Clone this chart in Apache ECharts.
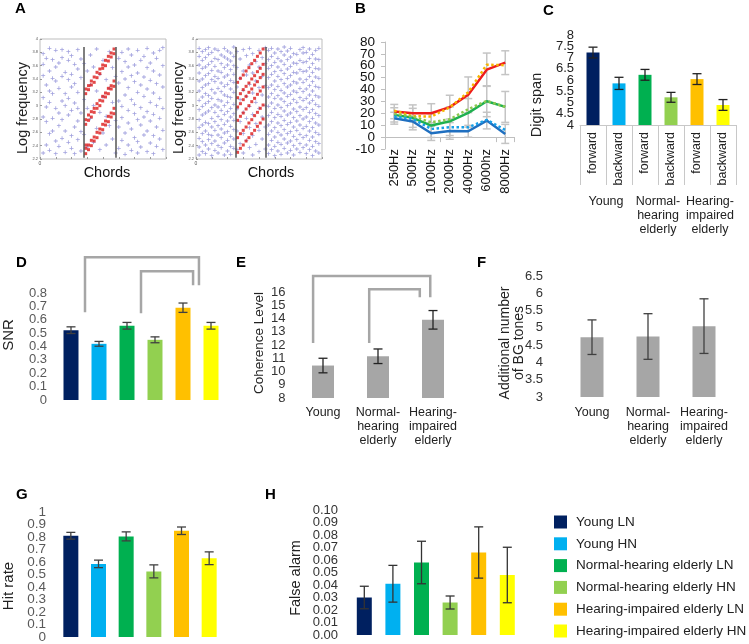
<!DOCTYPE html>
<html><head><meta charset="utf-8">
<script src="https://cdn.jsdelivr.net/npm/echarts@6/dist/echarts.min.js"></script>
<style>html,body{margin:0;padding:0;background:#fff}#c{width:749px;height:644px}</style>
</head><body><div id="c"></div>
<script>
const FF = '"Liberation Sans", Arial, sans-serif';

// ---------- Panel A (stimulus examples) ----------
const aLeftBg = [
"229 283 312 345 362 378","241 276 298 331 371","233 258 305 322 352 386","262 281 318 341 369",
"228 247 296 337 358 383","239 270 289 326 364","251 279 307 344 372 384","230 262 300 318 350",
"245 286 311 339 368 381","236 255 293 328 347 375","228 268 304 333 362","249 277 296 320 355 384",
"232 261 289 342 370","257 309 363","238 296 352","281 331 376","245 300 358","266 322 385",
"234 290 347","259 313 368","241 284 339","270 326 381","250 305 357","229 278 344",
"236 268 307 334 371","248 282 299 351 380","227 259 316 340 366","241 274 293 327 358 385",
"233 265 309 345 376","252 288 302 336 361","229 246 279 320 349 383","238 271 297 331 368",
"256 283 314 343 374","231 262 291 325 357 386","244 277 305 338 364","228 255 287 319 352 379",
"239 268 300 333 371","250 281 311 346 383","234 263 296 328 360 387"];
const aLeftRedX = [14.5,15.4,16.3,17.2,18.1,19.0,19.9,20.8,21.7,22.6,23.5];
const aLeftRed = [
"228 236 241 272 279 318 325","234 241 278 286 324 330","240 248 283 291 331 337",
"247 253 290 296 335 343","252 260 296 303 342 350","259 265 300 308 348 355",
"264 272 307 314 356 361","271 277 313 319 360 368","276 284 318 326 367 374",
"283 289 325 330 373 379","288 296 329 337 378 385"];
const aRightBg = [
"226 238 251 267 279 294 308 322 337 349 361 374 386","231 246 258 271 286 299 313 327 340 356 368 381",
"228 241 262 275 289 303 318 331 345 358 372 384","235 249 257 273 292 306 315 333 348 362 377 387",
"225 243 255 268 281 297 311 324 339 353 366 380","233 247 263 276 290 301 319 336 344 359 371 385",
"229 240 256 270 284 298 309 326 341 352 369 383","237 252 265 279 293 307 321 334 350 363 376",
"226 244 259 272 287 300 316 329 343 357 373 386","232 248 261 277 291 305 314 332 346 361 370 382",
"227 239 254 269 283 296 312 325 338 354 367 379","236 250 264 278 288 302 320 335 347 360 374 388",
"234 262 295 328 357 381","243 276 309 341 370","229 258 290 323 352 384","248 281 314 346 375",
"237 267 299 332 361 386","226 255 287 319 349 378","242 273 305 337 366","231 263 296 327 358 383",
"250 283 316 344 372","235 268 300 330 363 387",
"228 241 257 271 285 299 313 327 342 356 369 383","234 248 262 276 290 304 318 331 347 360 374 386",
"225 239 253 267 282 296 311 324 337 351 365 379","232 245 260 274 287 301 315 329 344 358 371 385",
"227 242 256 270 284 297 310 323 339 353 367 381","236 250 264 278 292 306 319 333 348 362 376 388",
"229 244 258 272 286 300 314 328 341 355 369 382","233 247 261 275 289 303 317 331 345 359 373 386",
"226 240 254 268 282 295 309 322 336 350 364 378","235 249 263 277 291 305 320 334 349 363 377",
"230 243 257 271 285 298 312 326 340 354 368 384","237 252 266 280 294 308 321 335 351 365 379 387",
"228 241 255 269 283 297 311 325 339 352 366 380","234 248 262 276 290 304 316 330 344 357 371 385",
"225 239 253 267 281 294 308 322 336 350 363 377","232 246 260 274 288 302 315 329 343 356 370 383",
"229 243 257 271 285 299 313 327 341 355 369 386"];
const aRightRedX = [13.2,14.1,15.0,15.9,16.8,17.7,18.6,19.5,20.4,21.3];
const aRightRed = [
"230 252 278 298 312 335","236 258 284 303 318 341","241 263 289 309 324 346",
"247 268 295 314 329 352","252 274 300 320 334 357","258 279 306 325 340 363",
"263 285 311 331 345 368","269 290 317 336 351 374","274 296 322 342 356 379",
"280 301 328 347 362 385"];
const aLeftLines = [14, 24];
const aRightLines = [12.7, 22.2];

// ---------- Panel B (audiogram) ----------
const freqCats = ['250Hz','500Hz','1000Hz','2000Hz','4000Hz','6000hz','8000Hz'];
const bTicks = ['-10','0','10','20','30','40','50','60','70','80'];
const bRed   = [21.5,20.1,20.1,25.2,35.6,56.7,62.6];
const bGreen = [18.7,16.2,9.7,13.3,20.4,30.2,25.4];
const bBlue  = [15.9,13.1,3.2,5.2,4.9,13.9,2.7];
const bOrangeDot = [22.3,17.6,17.3,25,37.8,60.9,60.5];
const bLGreenDot = [19.5,17.3,12.5,15,23.5,30.5,25.5];
const bLBlueDot  = [17.3,15.3,6.9,8.3,8.3,14.5,6.0];
const bRedSD   = [6,7,8,10,15,14,10];
const bGreenSD = [6,8,10,12,12,13,13];
const bBlueSD  = [5,7,6,7,5,7,8];

// ---------- Panel C (digit span) ----------
const cCats = ['forward','backward','forward','backward','forward','backward'];
const groupCats = ['Young','Normal-\nhearing\nelderly','Hearing-\nimpaired\nelderly'];
const cTicks = ['4','4.5','5','5.5','6','6.5','7','7.5','8'];
const cVals = [7.22,5.85,6.23,5.23,6.04,4.89];
const cSE   = [0.24,0.27,0.24,0.22,0.24,0.24];

// ---------- Panel D (SNR) ----------
const dTicks = ['0','0.1','0.2','0.3','0.4','0.5','0.6','0.7','0.8'];
const dVals = [0.522,0.42,0.555,0.45,0.69,0.555];
const dSE   = [0.025,0.018,0.025,0.022,0.035,0.025];
const dBrackets = [[0,0.5,0.657,1.067,4.57,0.858],[0,2.5,0.649,0.963,4.36,0.858]];

// ---------- Panel E (coherence level) ----------
const eVals = [10.45,11.15,13.9];
const eSE   = [0.55,0.55,0.7];
const eBrackets = [[0,-0.18,12.15,17.2,1.95,15.6],[0,0.84,12.15,16.2,1.76,15.6]];

// ---------- Panel F (BG tones) ----------
const fVals = [4.73,4.75,5.05];
const fSE   = [0.5,0.66,0.79];

// ---------- Panel G (hit rate) / H (false alarm) ----------
const condNames = ['Young LN','Young HN','Normal-hearing elderly LN','Normal-hearing elderly HN','Hearing-impaired elderly LN','Hearing-impaired elderly HN'];
const condColors = ['#002060','#00b0f0','#00b050','#92d050','#ffc000','#ffff00'];
const gTicks = ['0','0.1','0.2','0.3','0.4','0.5','0.6','0.7','0.8','0.9','1'];
const gVals = [0.81,0.585,0.805,0.525,0.85,0.63];
const gSE   = [0.027,0.03,0.036,0.052,0.03,0.051];
const hTicks = ['0.00','0.01','0.02','0.03','0.04','0.05','0.06','0.07','0.08','0.09','0.10'];
const hVals = [0.030,0.041,0.058,0.026,0.066,0.048];
const hSE   = [0.009,0.0147,0.017,0.0052,0.0205,0.0222];

// ---------- helpers ----------
function colPts(xs, strs){ const out=[]; strs.forEach((s,i)=>s.split(' ').forEach(t=>out.push([xs[i], +t/100]))); return out; }
const idx = n => Array.from({length:n},(_,i)=>i+1);

function errSeries(xi, yi, vals, se, color, lw, cap){
  return {type:'custom', xAxisIndex:xi, yAxisIndex:yi, clip:false, silent:true, z:5,
    data: vals.map((v,i)=>[i,v,se[i]]), encode:{x:0,y:1},
    renderItem:function(p,api){
      const x=api.value(0), m=api.value(1), e=api.value(2);
      const t=api.coord([x,m+e]), b=api.coord([x,m-e]);
      const st={stroke:color,lineWidth:lw};
      return {type:'group',children:[
        {type:'line',shape:{x1:t[0],y1:t[1],x2:t[0],y2:b[1]},style:st},
        {type:'line',shape:{x1:t[0]-cap/2,y1:t[1],x2:t[0]+cap/2,y2:t[1]},style:st},
        {type:'line',shape:{x1:t[0]-cap/2,y1:b[1],x2:t[0]+cap/2,y2:b[1]},style:st}]};
    }};
}
function bracketSeries(xi, yi, data){
  return {type:'custom', xAxisIndex:xi, yAxisIndex:yi, clip:false, silent:true, z:4,
    data:data, encode:{x:0,y:3},
    renderItem:function(p,api){
      const xl=api.value(1), yl=api.value(2), yt=api.value(3), xr=api.value(4), yr=api.value(5);
      const p0=api.coord([0,yt]), p1=api.coord([1,yt]);
      const X=v=>p0[0]+v*(p1[0]-p0[0]);
      const Yl=api.coord([0,yl])[1], Yr=api.coord([0,yr])[1];
      return {type:'polyline',shape:{points:[[X(xl),Yl],[X(xl),p0[1]],[X(xr),p0[1]],[X(xr),Yr]]},
        style:{stroke:'#a6a6a6',lineWidth:2.5,fill:null}};
    }};
}
function catX(grid, data, extra){ return Object.assign({type:'category',gridIndex:grid,data:data,boundaryGap:true,
  axisLine:{show:false},axisTick:{show:false},axisLabel:{show:false}}, extra||{}); }
function valY(grid, min, max, interval, labelExtra, extra){ return Object.assign({type:'value',gridIndex:grid,min:min,max:max,interval:interval,
  axisLine:{show:false},axisTick:{show:false},splitLine:{show:false},
  axisLabel:Object.assign({fontFamily:FF,fontSize:14,color:'#404040',showMinLabel:true,showMaxLabel:true},labelExtra||{})}, extra||{}); }
// label-only axis: tick label strings laid out evenly along the grid's left edge (all shown)
function lblY(grid, ticks, fontSize, color, margin){ return {type:'category',gridIndex:grid,data:ticks,boundaryGap:false,
  position:'left',axisLine:{show:false},axisTick:{show:false},splitLine:{show:false},
  axisLabel:{interval:0,fontFamily:FF,fontSize:fontSize,color:color,margin:margin}}; }
function multiLbl(m){ return {show:true,interval:0,fontFamily:FF,fontSize:12.5,color:'#222',lineHeight:14,margin:m}; }

const plusSym = 'path://M2,0h1v5h-1z M0,2h5v1h-5z';
const aY = g => ({type:'value',gridIndex:g,min:2.2,max:4,interval:0.2,splitLine:{show:false},
  axisLine:{show:false},axisTick:{show:true,inside:true,length:2,lineStyle:{color:'#999'}},
  axisLabel:{fontSize:4,color:'#555',margin:2,fontFamily:FF,showMinLabel:true,showMaxLabel:true}});
const aX = g => ({type:'value',gridIndex:g,min:0,max:40,interval:5,splitLine:{show:false},
  axisLine:{show:false},axisTick:{show:true,inside:true,length:2,lineStyle:{color:'#999'}},
  axisLabel:{fontSize:5,color:'#555',margin:2,fontFamily:FF,showMinLabel:true,formatter:v=>v===0?'0':''}});
function vlines(lines){ return {silent:true,symbol:'none',label:{show:false},
  lineStyle:{color:'#555',width:1.5,type:'solid'},
  data:lines.map(x=>[{coord:[x,2.22]},{coord:[x,3.88]}])}; }

const series = [];
// A
series.push({type:'scatter',xAxisIndex:0,yAxisIndex:0,data:colPts(idx(39),aLeftBg),symbol:plusSym,symbolSize:4,
  itemStyle:{color:'#8a8ad6',opacity:0.8},markLine:vlines(aLeftLines),silent:true});
series.push({type:'scatter',xAxisIndex:0,yAxisIndex:0,data:colPts(aLeftRedX,aLeftRed),symbol:'rect',symbolSize:3,
  itemStyle:{color:'#dc1c1c'},silent:true,z:3});
series.push({type:'scatter',xAxisIndex:1,yAxisIndex:1,data:colPts(idx(39),aRightBg),symbol:plusSym,symbolSize:4,
  itemStyle:{color:'#8a8ad6',opacity:0.8},markLine:vlines(aRightLines),silent:true});
series.push({type:'scatter',xAxisIndex:1,yAxisIndex:1,data:colPts(aRightRedX,aRightRed),symbol:'rect',symbolSize:3,
  itemStyle:{color:'#dc1c1c'},silent:true,z:3});
// B
series.push(errSeries(2,2,bRed,bRedSD,'#c4c4c4',1.5,8));
series.push(errSeries(2,2,bGreen,bGreenSD,'#c4c4c4',1.5,8));
series.push(errSeries(2,2,bBlue,bBlueSD,'#c4c4c4',1.5,8));
const bLine=(d,c,t,w)=>({type:'line',xAxisIndex:2,yAxisIndex:2,data:d,symbol:'none',silent:true,z:6,
  lineStyle:{color:c,width:w,type:t}});
series.push(bLine(bRed,'#ee1c1c','solid',2.5));
series.push(bLine(bGreen,'#1fb050','solid',2.5));
series.push(bLine(bBlue,'#1f6fc0','solid',2.5));
series.push(bLine(bOrangeDot,'#f5b400','dotted',2.5));
series.push(bLine(bLGreenDot,'#8cc850','dotted',2.5));
series.push(bLine(bLBlueDot,'#18a0e8','dotted',2.5));
// C
series.push({type:'bar',xAxisIndex:3,yAxisIndex:3,barWidth:13,silent:true,
  data:cVals.map((v,i)=>({value:v,itemStyle:{color:condColors[i]}}))});
series.push(errSeries(3,3,cVals,cSE,'#222',1.3,9));
// D
series.push({type:'bar',xAxisIndex:6,yAxisIndex:4,barWidth:15,silent:true,
  data:dVals.map((v,i)=>({value:v,itemStyle:{color:condColors[i]}}))});
series.push(errSeries(6,4,dVals,dSE,'#404040',1.3,9));
series.push(bracketSeries(6,4,dBrackets));
// E
series.push({type:'bar',xAxisIndex:7,yAxisIndex:5,barWidth:22,silent:true,itemStyle:{color:'#a6a6a6'},data:eVals});
series.push(errSeries(7,5,eVals,eSE,'#222',1.3,9));
series.push(bracketSeries(7,5,eBrackets));
// F
series.push({type:'bar',xAxisIndex:8,yAxisIndex:6,barWidth:23,silent:true,itemStyle:{color:'#a6a6a6'},data:fVals});
series.push(errSeries(8,6,fVals,fSE,'#404040',1.3,9));
// G & H
condNames.forEach((n,k)=>{
  series.push({type:'bar',name:n,xAxisIndex:9,yAxisIndex:7,stack:'g',barWidth:15,silent:true,
    itemStyle:{color:condColors[k]},data:gVals.map((v,i)=>i===k?v:'-')});
});
series.push(errSeries(9,7,gVals,gSE,'#404040',1.3,9));
condNames.forEach((n,k)=>{
  series.push({type:'bar',name:n,xAxisIndex:10,yAxisIndex:8,stack:'h',barWidth:15,silent:true,
    itemStyle:{color:condColors[k]},data:hVals.map((v,i)=>i===k?v:'-')});
});
series.push(errSeries(10,8,hVals,hSE,'#333',1.3,9));

const grids = [
  {left:40,top:39,width:126,height:120,show:true,borderColor:'#bdbdbd',borderWidth:1},   // A left
  {left:196,top:39,width:126,height:120,show:true,borderColor:'#bdbdbd',borderWidth:1},  // A right
  {left:385,top:42,width:129.5,height:107},   // B
  {left:580,top:35,width:156,height:90},      // C
  {left:57,top:293,width:168,height:107},     // D
  {left:295.5,top:292,width:165,height:106},  // E
  {left:564,top:276,width:168,height:121},    // F
  {left:57,top:512,width:166,height:125},     // G
  {left:350,top:510,width:171.6,height:125}   // H
];

const xAxes = [
  aX(0), aX(1),
  {type:'category',gridIndex:2,data:freqCats,boundaryGap:true,
    axisLine:{show:true,onZero:true,lineStyle:{color:'#bfbfbf',width:1}},
    axisTick:{show:true,length:5,lineStyle:{color:'#bfbfbf'}},
    axisLabel:{show:false}},
  {type:'category',gridIndex:3,data:cCats,boundaryGap:true,
    axisLine:{show:true,lineStyle:{color:'#c8c8c8',width:1}},
    axisTick:{show:true,length:60,interval:0,lineStyle:{color:'#c8c8c8'}},
    axisLabel:{interval:0,rotate:90,margin:7,fontSize:12.5,color:'#222',fontFamily:FF}},
  catX(3,groupCats,{position:'bottom',axisLabel:multiLbl(70)}),
  catX(2,freqCats,{position:'bottom',axisLine:{show:false,onZero:false},
    axisLabel:{show:true,interval:0,rotate:90,margin:0,fontSize:13,color:'#111',fontFamily:FF}}),
  catX(4,condNames),
  catX(5,groupCats,{axisLabel:multiLbl(8)}),
  catX(6,groupCats,{axisLabel:multiLbl(9)}),
  catX(7,condNames),
  catX(8,condNames)
];
const yAxes = [
  aY(0), aY(1),
  {type:'value',gridIndex:2,min:-10,max:80,interval:10,splitLine:{show:false},
    axisLine:{show:true,lineStyle:{color:'#bfbfbf'}},axisTick:{show:true,length:4,lineStyle:{color:'#bfbfbf'}},
    axisLabel:{show:false}},
  valY(3,4,8,0.5,{show:false}),
  valY(4,0,0.8,0.1,{show:false}),
  valY(5,8,16,1,{fontSize:13,color:'#333',margin:10}),
  valY(6,3,6.5,0.5,{fontSize:13,color:'#333',margin:21}),
  valY(7,0,1,0.1,{show:false}),
  valY(8,0,0.1,0.01,{show:false}),
  // label-only axes (tick labels)
  lblY(2,bTicks,13.5,'#111',10),
  lblY(3,cTicks,13,'#222',6),
  lblY(4,dTicks,13,'#595959',10),
  lblY(7,gTicks,13.5,'#595959',11),
  lblY(8,hTicks,13,'#333',12)
];

function txt(t,x,y,size){ return {type:'text',x:x,y:y,silent:true,
  style:{text:t,fontFamily:FF,fontSize:size,fill:'#111',align:'center',verticalAlign:'middle'}}; }
function vtxt(t,x,y,size,lh){ return {type:'text',x:x,y:y,rotation:Math.PI/2,silent:true,
  style:{text:t,fontFamily:FF,fontSize:size,fill:'#222',align:'center',verticalAlign:'middle',lineHeight:lh||size*1.1}}; }
function lbl(t,x,y){ return {type:'text',x:x,y:y,silent:true,style:{text:t,fontFamily:FF,fontSize:15,fontWeight:'bold',fill:'#000',align:'left',verticalAlign:'top'}}; }

const graphic = [
  lbl('A',15,1), lbl('B',355,1), lbl('C',543,3), lbl('D',16,255), lbl('E',236,255), lbl('F',477,255),
  lbl('G',16,487), lbl('H',265,487),
  vtxt('Log frequency',22.5,108,14.5), vtxt('Log frequency',178.5,108,14.5),
  txt('Chords',107,173,14.5), txt('Chords',271,173,14.5),
  vtxt('Digit span',537,105,14.5),
  vtxt('SNR',9,335,15),
  vtxt('Coherence Level',259,343,13.5),
  vtxt('Additional number\nof BG tones',512,343,14,14),
  vtxt('Hit rate',9,586,15),
  vtxt('False alarm',296,578,14.5)
];

const chart = echarts.init(document.getElementById('c'), null, {renderer:'canvas'});
chart.setOption({
  animation:false,
  backgroundColor:'#fff',
  textStyle:{fontFamily:FF},
  grid:grids, xAxis:xAxes, yAxis:yAxes, series:series, graphic:graphic,
  legend:{orient:'vertical',left:554,top:514,padding:0,itemWidth:13,itemHeight:13,itemGap:5.8,icon:'rect',selectedMode:false,
    data:condNames, textStyle:{fontFamily:FF,fontSize:13.5,color:'#222',lineHeight:16,padding:[0,0,0,4]}}
});
</script></body></html>
